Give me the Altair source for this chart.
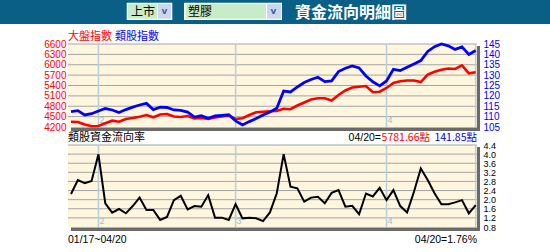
import altair as alt
import pandas as pd

# ---------------- data ----------------
day_index = list(range(60))  # trading days 01/17 ~ 04/20
market_index = [4353, 4345, 4272, 4220, 4229, 4307, 4382, 4353, 4431, 4460,
                4498, 4547, 4481, 4562, 4576, 4504, 4489, 4518, 4446, 4460,
                4431, 4475, 4504, 4527, 4431, 4452, 4547, 4625, 4642, 4654,
                4663, 4729, 4715, 4822, 4909, 4995, 5030, 5030, 4966, 5125,
                5256, 5342, 5365, 5386, 5204, 5221, 5328, 5472, 5522, 5545,
                5545, 5501, 5718, 5799, 5854, 5892, 5877, 5984, 5753, 5781.66]
sector_index = [112.4, 112.9, 110.8, 111.4, 112.7, 113.9, 113.2, 112.0, 113.4, 114.6,
                115.6, 116.4, 113.4, 114.6, 114.4, 113.2, 113.0, 112.2, 109.8, 110.5,
                109.2, 110.3, 110.6, 110.9, 107.9, 106.0, 107.6, 109.1, 110.8, 112.2,
                114.0, 122.3, 121.9, 124.3, 126.4, 127.9, 129.0, 126.9, 127.2, 131.7,
                133.3, 134.4, 133.5, 129.6, 126.8, 124.8, 127.2, 132.8, 132.2, 133.8,
                135.4, 137.0, 141.4, 143.7, 145.0, 144.1, 142.4, 143.6, 140.0, 141.85]
flow_rate = [2.25, 2.86, 2.72, 2.82, 3.99, 1.84, 1.43, 1.59, 1.40, 1.72,
             2.09, 1.55, 1.55, 1.11, 1.24, 1.98, 2.17, 1.57, 1.72, 1.69,
             2.20, 1.21, 1.21, 1.11, 1.80, 1.18, 1.21, 1.18, 1.06, 1.44,
             2.28, 4.00, 2.57, 2.50, 1.91, 2.09, 2.13, 1.84, 2.30, 2.42,
             1.69, 1.73, 1.36, 2.27, 2.14, 2.52, 1.98, 2.42, 1.72, 1.44,
             2.35, 3.37, 2.86, 2.28, 1.80, 1.80, 1.88, 1.98, 1.40, 1.76]
month_start_index = [4, 24, 46]
month_labels = ["2", "3", "4"]
edge_index = [59]
market_ticks = [4200, 4500, 4800, 5100, 5400, 5700, 6000, 6300, 6600]
sector_ticks = [105, 110, 115, 120, 125, 130, 135, 140, 145]
flow_ticks = [0.8, 1.2, 1.6, 2.0, 2.4, 2.8, 3.2, 3.6, 4.0, 4.4]

df = pd.DataFrame({"i": day_index, "market": market_index,
                   "sector": sector_index, "flow": flow_rate})
months = pd.DataFrame({"m": month_start_index, "lab": month_labels})
edges = pd.DataFrame({"m": month_start_index + edge_index})

CJK = "Noto Sans CJK TC"
NUM = "Liberation Sans"
W, H = 409, 183
TOP_H = 83
BOT_T, BOT_B = 101, 183

xs = alt.Scale(domain=[0, 59], range=[3, 407.7], nice=False, zero=False)
ys_market = alt.Scale(domain=[4200, 6600], range=[TOP_H, 0], nice=False, zero=False)
ys_sector = alt.Scale(domain=[105, 145], range=[TOP_H, 0], nice=False, zero=False)
ys_flow = alt.Scale(domain=[0.8, 4.4], range=[BOT_B, BOT_T], nice=False, zero=False)

one = pd.DataFrame({"a": [0]})


def rect(x1, x2, y1, y2, color):
    return alt.Chart(one).mark_rect(color=color).encode(
        x=alt.value(x1), x2=alt.value(x2), y=alt.value(y1), y2=alt.value(y2))


def label(text, x, y, color="#000000", size=11, font=CJK, align="left", weight="normal"):
    return alt.Chart(pd.DataFrame({"t": [text]})).mark_text(
        align=align, baseline="middle", color=color, fontSize=size, font=font,
        fontWeight=weight).encode(x=alt.value(x), y=alt.value(y), text="t:N")


layers = []
# header bar
layers.append(rect(-68, 482, -44, -20, "#0a5f86"))
# select boxes
layers.append(rect(58.7, 104.3, -41.3, -24, "#ffffff"))
layers.append(rect(60, 89, -40, -25.3, "#c8ecc8"))
layers.append(rect(90, 103, -40, -25.3, "#c9d8f0"))
layers.append(label("上市", 63, -32.5, size=12))
layers.append(label("v", 96.5, -33, color="#4a5f94", size=9, font="DejaVu Sans", align="center", weight="bold"))
layers.append(rect(116, 214, -41.3, -24, "#ffffff"))
layers.append(rect(117.5, 198, -40, -25.3, "#c8ecc8"))
layers.append(rect(199, 213, -40, -25.3, "#c9d8f0"))
layers.append(label("塑膠", 120, -32.5, size=12))
layers.append(label("v", 205.5, -33, color="#4a5f94", size=9, font="DejaVu Sans", align="center", weight="bold"))
layers.append(label("資金流向明細圖", 227, -31.5, color="#ffffff", size=16, weight="bold"))

# legend texts
layers.append(label("大盤指數", 0, -7, color="#ff0000", size=11))
layers.append(label("類股指數", 47, -7, color="#0000ff", size=11))

# panel backgrounds and shadows
layers.append(rect(0, W, 0, TOP_H, "#fff6df"))
layers.append(rect(0, W, BOT_T, BOT_B, "#fff6df"))
layers.append(rect(3, 412, 83.5, 87, "#6a6a6a"))
layers.append(rect(409, 412, 2, 87, "#6a6a6a"))
layers.append(rect(3, 412, 183.5, 187, "#6a6a6a"))
layers.append(rect(409, 412, 103, 187, "#6a6a6a"))

# grid lines via scales
layers.append(alt.Chart(pd.DataFrame({"v": market_ticks[1:]})).mark_rule(color="#a4a4a4", strokeWidth=1).encode(
    y=alt.Y("v:Q", scale=ys_market, axis=None), x=alt.value(0), x2=alt.value(W)))
layers.append(alt.Chart(pd.DataFrame({"v": flow_ticks[1:]})).mark_rule(color="#a4a4a4", strokeWidth=1).encode(
    y=alt.Y("v:Q", scale=ys_flow, axis=None), x=alt.value(0), x2=alt.value(W)))

# month separators
layers.append(alt.Chart(edges).mark_rule(color="#b7cfdb", strokeWidth=1.5).encode(
    x=alt.X("m:Q", scale=xs, axis=None), y=alt.value(0), y2=alt.value(TOP_H)))
layers.append(alt.Chart(edges).mark_rule(color="#b7cfdb", strokeWidth=1.5).encode(
    x=alt.X("m:Q", scale=xs, axis=None), y=alt.value(BOT_T), y2=alt.value(BOT_B)))
layers.append(alt.Chart(months).mark_text(align="left", baseline="bottom", dx=1, color="#9ebccc", fontSize=9, font=NUM).encode(
    x=alt.X("m:Q", scale=xs, axis=None), y=alt.value(TOP_H - 2), text="lab:N"))
layers.append(alt.Chart(months).mark_text(align="left", baseline="bottom", dx=1, color="#9ebccc", fontSize=9, font=NUM).encode(
    x=alt.X("m:Q", scale=xs, axis=None), y=alt.value(BOT_B - 1), text="lab:N"))

base = alt.Chart(df)
layers.append(base.mark_line(color="#ff0000", strokeWidth=2.6).encode(
    x=alt.X("i:Q", scale=xs, axis=None),
    y=alt.Y("market:Q", scale=ys_market,
            axis=alt.Axis(orient="left", values=market_ticks, labelColor="#ff0000", domain=False,
                          ticks=False, grid=False, labelFont=NUM, labelFontSize=10, labelPadding=2,
                          labelOverlap=False, title=None, format="d"))))
layers.append(base.mark_line(color="#0000ff", strokeWidth=2.8).encode(
    x=alt.X("i:Q", scale=xs, axis=None),
    y=alt.Y("sector:Q", scale=ys_sector,
            axis=alt.Axis(orient="right", values=sector_ticks, labelColor="#0000ff", domain=False,
                          ticks=False, grid=False, labelFont=NUM, labelFontSize=10, labelPadding=6,
                          labelOverlap=False, title=None, format="d"))))
layers.append(base.mark_line(color="#000000", strokeWidth=2).encode(
    x=alt.X("i:Q", scale=xs, axis=None),
    y=alt.Y("flow:Q", scale=ys_flow,
            axis=alt.Axis(orient="right", values=flow_ticks, labelColor="#000000", domain=False,
                          ticks=False, grid=False, labelFont=NUM, labelFontSize=9, labelPadding=6,
                          labelOverlap=False, title=None, format=".1f"))))

# texts between / below panels
layers.append(label("類股資金流向率", 0, 94, size=11))
layers.append(label("141.85點", 409, 94, color="#0000ff", size=10.5, align="right"))
layers.append(label("5781.66點", 362, 94, color="#ff0000", size=10.5, align="right"))
layers.append(label("04/20=", 313, 94, size=10.5, font=NUM, align="right"))
layers.append(label("01/17~04/20", 0, 196, size=10.5, font=NUM))
layers.append(label("04/20=1.76%", 409, 196, size=10.5, font=NUM, align="right"))

chart = alt.layer(*layers).resolve_scale(x="independent", y="independent").properties(
    width=W, height=H,
    padding={"left": 68, "top": 44, "right": 73, "bottom": 25},
    autosize=alt.AutoSizeParams(type="none"),
    background="#ffffff",
).configure_view(stroke=None)

chart.save("out.html", embed_options={"renderer": "svg", "actions": False})
